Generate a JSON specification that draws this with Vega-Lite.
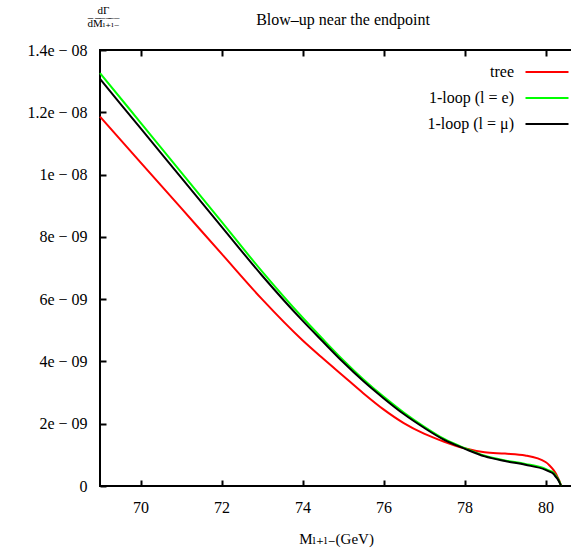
{
  "$schema": "https://vega.github.io/schema/vega-lite/v6.json",
  "width": 472,
  "height": 436,
  "autosize": {"type": "none"},
  "padding": {"left": 100, "top": 50, "right": 0, "bottom": 63},
  "background": "white",
  "title": {"text": "Blow–up near the endpoint", "font": "Liberation Serif, DejaVu Serif, serif", "fontSize": 16, "fontWeight": "normal", "offset": -24, "dx": 7, "color": "black"},
  "config": {
    "view": {"stroke": "black", "strokeWidth": 2},
    "axis": {"grid": false, "domain": false, "tickColor": "black", "tickWidth": 2, "tickSize": -6, "labelFont": "Liberation Serif, DejaVu Serif, serif", "labelFontSize": 16, "labelColor": "black", "titleFont": "Liberation Serif, DejaVu Serif, serif", "titleFontWeight": "normal", "titleColor": "black"}
  },
  "data": {"values": [
    {"s": "tree", "x": 69, "y": 1.186e-8},
    {"s": "tree", "x": 70, "y": 1.039e-8},
    {"s": "tree", "x": 71, "y": 0.893e-8},
    {"s": "tree", "x": 72, "y": 0.746e-8},
    {"s": "tree", "x": 73, "y": 0.600e-8},
    {"s": "tree", "x": 74, "y": 0.468e-8},
    {"s": "tree", "x": 74.5, "y": 0.410e-8},
    {"s": "tree", "x": 75, "y": 0.354e-8},
    {"s": "tree", "x": 75.5, "y": 0.298e-8},
    {"s": "tree", "x": 76, "y": 0.246e-8},
    {"s": "tree", "x": 76.5, "y": 0.202e-8},
    {"s": "tree", "x": 77, "y": 0.168e-8},
    {"s": "tree", "x": 77.5, "y": 0.142e-8},
    {"s": "tree", "x": 78, "y": 0.121e-8},
    {"s": "tree", "x": 78.5, "y": 0.108e-8},
    {"s": "tree", "x": 79, "y": 0.104e-8},
    {"s": "tree", "x": 79.5, "y": 0.098e-8},
    {"s": "tree", "x": 80, "y": 0.077e-8},
    {"s": "tree", "x": 80.1, "y": 0.066e-8},
    {"s": "tree", "x": 80.2, "y": 0.051e-8},
    {"s": "tree", "x": 80.25, "y": 0.041e-8},
    {"s": "tree", "x": 80.3, "y": 0.028e-8},
    {"s": "tree", "x": 80.35, "y": 0.014e-8},
    {"s": "tree", "x": 80.385, "y": 0},
    {"s": "1-loop (l = e)", "x": 69, "y": 1.326e-8},
    {"s": "1-loop (l = e)", "x": 70, "y": 1.167e-8},
    {"s": "1-loop (l = e)", "x": 71, "y": 1.008e-8},
    {"s": "1-loop (l = e)", "x": 72, "y": 0.849e-8},
    {"s": "1-loop (l = e)", "x": 73, "y": 0.689e-8},
    {"s": "1-loop (l = e)", "x": 74, "y": 0.541e-8},
    {"s": "1-loop (l = e)", "x": 74.5, "y": 0.472e-8},
    {"s": "1-loop (l = e)", "x": 75, "y": 0.405e-8},
    {"s": "1-loop (l = e)", "x": 75.5, "y": 0.343e-8},
    {"s": "1-loop (l = e)", "x": 76, "y": 0.287e-8},
    {"s": "1-loop (l = e)", "x": 76.5, "y": 0.236e-8},
    {"s": "1-loop (l = e)", "x": 77, "y": 0.191e-8},
    {"s": "1-loop (l = e)", "x": 77.5, "y": 0.151e-8},
    {"s": "1-loop (l = e)", "x": 78, "y": 0.122e-8},
    {"s": "1-loop (l = e)", "x": 78.5, "y": 0.097e-8},
    {"s": "1-loop (l = e)", "x": 79, "y": 0.082e-8},
    {"s": "1-loop (l = e)", "x": 79.5, "y": 0.071e-8},
    {"s": "1-loop (l = e)", "x": 80, "y": 0.055e-8},
    {"s": "1-loop (l = e)", "x": 80.1, "y": 0.049e-8},
    {"s": "1-loop (l = e)", "x": 80.2, "y": 0.042e-8},
    {"s": "1-loop (l = e)", "x": 80.25, "y": 0.034e-8},
    {"s": "1-loop (l = e)", "x": 80.3, "y": 0.025e-8},
    {"s": "1-loop (l = e)", "x": 80.35, "y": 0.012e-8},
    {"s": "1-loop (l = e)", "x": 80.385, "y": 0},
    {"s": "1-loop (l = μ)", "x": 69, "y": 1.307e-8},
    {"s": "1-loop (l = μ)", "x": 70, "y": 1.149e-8},
    {"s": "1-loop (l = μ)", "x": 71, "y": 0.991e-8},
    {"s": "1-loop (l = μ)", "x": 72, "y": 0.833e-8},
    {"s": "1-loop (l = μ)", "x": 73, "y": 0.676e-8},
    {"s": "1-loop (l = μ)", "x": 74, "y": 0.531e-8},
    {"s": "1-loop (l = μ)", "x": 74.5, "y": 0.464e-8},
    {"s": "1-loop (l = μ)", "x": 75, "y": 0.398e-8},
    {"s": "1-loop (l = μ)", "x": 75.5, "y": 0.337e-8},
    {"s": "1-loop (l = μ)", "x": 76, "y": 0.282e-8},
    {"s": "1-loop (l = μ)", "x": 76.5, "y": 0.231e-8},
    {"s": "1-loop (l = μ)", "x": 77, "y": 0.187e-8},
    {"s": "1-loop (l = μ)", "x": 77.5, "y": 0.148e-8},
    {"s": "1-loop (l = μ)", "x": 78, "y": 0.120e-8},
    {"s": "1-loop (l = μ)", "x": 78.5, "y": 0.095e-8},
    {"s": "1-loop (l = μ)", "x": 79, "y": 0.080e-8},
    {"s": "1-loop (l = μ)", "x": 79.5, "y": 0.068e-8},
    {"s": "1-loop (l = μ)", "x": 80, "y": 0.052e-8},
    {"s": "1-loop (l = μ)", "x": 80.1, "y": 0.046e-8},
    {"s": "1-loop (l = μ)", "x": 80.2, "y": 0.0385e-8},
    {"s": "1-loop (l = μ)", "x": 80.25, "y": 0.030e-8},
    {"s": "1-loop (l = μ)", "x": 80.3, "y": 0.022e-8},
    {"s": "1-loop (l = μ)", "x": 80.35, "y": 0.010e-8},
    {"s": "1-loop (l = μ)", "x": 80.385, "y": 0}
  ]},
  "layer": [
    {
      "mark": {"type": "line", "strokeWidth": 2, "interpolate": "monotone"},
      "encoding": {
        "x": {"field": "x", "type": "quantitative", "scale": {"domain": [69, 80.654], "nice": false, "zero": false},
              "axis": {"orient": "bottom", "values": [70, 72, 74, 76, 78, 80], "labelPadding": 19, "title": "Mₗ₊ₗ₋(GeV)", "titleFontSize": 15, "titlePadding": 16}},
        "y": {"field": "y", "type": "quantitative", "scale": {"domain": [0, 1.4e-8], "nice": false},
              "axis": {"values": [0, 2e-9, 4e-9, 6e-9, 8e-9, 1e-8, 1.2e-8, 1.4e-8], "labelPadding": 19,
                       "labelExpr": "['0','2e − 09','4e − 09','6e − 09','8e − 09','1e − 08','1.2e − 08','1.4e − 08'][round(datum.value/2e-9)]",
                       "title": ["dΓ", "d̅M̅ₗ̅₊̅ₗ̅₋̅"], "titleAngle": 0, "titleFontSize": 11, "titleLineHeight": 13, "titleAlign": "center", "titleBaseline": "top", "titleX": 3, "titleY": -46}},
        "color": {"field": "s", "type": "nominal", "sort": ["tree", "1-loop (l = e)", "1-loop (l = μ)"],
                  "scale": {"domain": ["tree", "1-loop (l = e)", "1-loop (l = μ)"], "range": ["#ff0000", "#00ff00", "#000000"]},
                  "legend": {"title": null, "orient": "none", "legendX": 435, "legendY": 10, "symbolType": "M-2,0H2", "symbolSize": 462, "symbolStrokeWidth": 2, "labelAlign": "right", "labelOffset": -45, "labelFont": "Liberation Serif, DejaVu Serif, serif", "labelFontSize": 16, "labelColor": "black", "rowPadding": 6, "labelLimit": 300}}
      }
    },
    {
      "mark": {"type": "line", "strokeOpacity": 0},
      "encoding": {
        "x": {"field": "x", "type": "quantitative", "axis": {"orient": "top", "values": [70, 72, 74, 76, 78, 80], "labels": false, "title": null}},
        "y": {"field": "y", "type": "quantitative"},
        "detail": {"field": "s"}
      }
    }
  ],
  "resolve": {"axis": {"x": "independent"}}
}
